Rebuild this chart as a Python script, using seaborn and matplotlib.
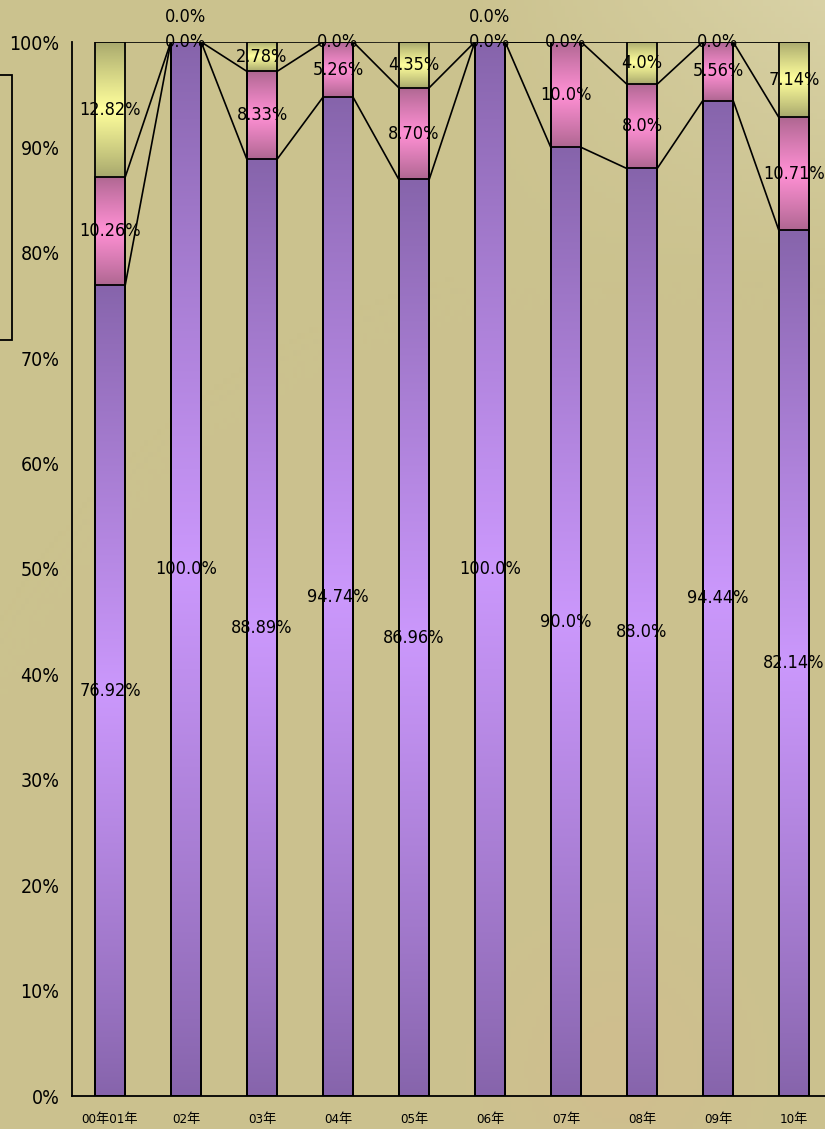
import numpy as np
import pandas as pd
import matplotlib
matplotlib.use("Agg")
import matplotlib.pyplot as plt
from matplotlib import font_manager
from matplotlib.colors import to_rgb
from matplotlib.patches import Rectangle
from matplotlib.ticker import FixedLocator
import seaborn as sns

# ── Dados ──────────────────────────────────────────────────────────────────────
categories = ["00年01年", "02年", "03年", "04年", "05年", "06年", "07年", "08年", "09年", "10年"]
purple_vals = ["76.92", "100.0", "88.89", "94.74", "86.96", "100.0", "90.0", "88.0", "94.44", "82.14"]
pink_vals = ["10.26", "0.0", "8.33", "5.26", "8.70", "0.0", "10.0", "8.0", "5.56", "10.71"]
yellow_vals = ["12.82", "0.0", "2.78", "0.0", "4.35", "0.0", "0.0", "4.0", "0.0", "7.14"]
y_ticks = [0, 10, 20, 30, 40, 50, 60, 70, 80, 90, 100]

# (escuro nas pontas, claro no meio)
SEG_COLORS = {
    "purple": ("#8664ab", "#cb98fc"),
    "pink": ("#ad6690", "#ff90d4"),
    "yellow": ("#a6a66c", "#ffff9c"),
}

sns.set_style("white")

# procura uma fonte estreita, se houver
narrow = None
for f in font_manager.fontManager.ttflist:
    if f.stretch in ("condensed", "semi-condensed", "extra-condensed") or \
            "Condensed" in f.name or "Narrow" in f.name:
        narrow = f.name
        break
families = ([narrow] if narrow else []) + ["DejaVu Sans", "Noto Sans CJK JP"]
plt.rcParams["font.family"] = families
STRETCH = "condensed"

W, H = 825, 1129
fig = plt.figure(figsize=(W / 100, H / 100), dpi=100)

# ── Fundo ──────────────────────────────────────────────────────────────────────
bg = fig.add_axes([0, 0, 1, 1], zorder=-5)
gx, gy = np.meshgrid(np.linspace(0, 1, 200), np.linspace(0, 1, 200))
base = np.array(to_rgb("#cbc28e"))
light = np.array(to_rgb("#e2dcb6"))
warm = np.array(to_rgb("#d8b890"))
w_light = np.clip((gx - 0.55) * 2.2, 0, 1) * np.clip((gy - 0.75) * 4, 0, 1) * 0.6
w_warm = np.exp(-(((gx - 0.75) / 0.15) ** 2 + ((gy - 0.05) / 0.12) ** 2)) * 0.35
img = base[None, None, :] * (1 - w_light - w_warm)[..., None] + light * w_light[..., None] + warm * w_warm[..., None]
bg.imshow(img, origin="lower", extent=[0, 1, 0, 1], aspect="auto")
bg.set_axis_off()

# ── Eixo principal ─────────────────────────────────────────────────────────────
left, right = 72 / W, 832 / W
bottom, top = (H - 1096) / H, (H - 42) / H
ax = fig.add_axes([left, bottom, right - left, top - bottom])
ax.set_facecolor("none")

purple = np.array([float(v) for v in purple_vals])
pink = np.array([float(v) for v in pink_vals])
yellow = np.array([float(v) for v in yellow_vals])
cum1 = purple
cum2 = purple + pink
cum3 = purple + pink + yellow

df = pd.DataFrame({"cat": categories, "c1": cum1, "c2": cum2, "c3": cum3})
BAR_W = 0.4

segments = [
    ("c3", cum2, cum3, "yellow"),
    ("c2", cum1, cum2, "pink"),
    ("c1", np.zeros(len(categories)), cum1, "purple"),
]


def _gradient(dark, light_c, n=256):
    t = np.linspace(0, 1, n)
    f = (1 - np.abs(2 * t - 1)) ** 0.9
    d, l = np.array(to_rgb(dark)), np.array(to_rgb(light_c))
    return (d[None, :] * (1 - f[:, None]) + l[None, :] * f[:, None])[:, None, :]


for col, lo, hi, name in segments:
    n_before = len(ax.patches)
    sns.barplot(data=df, x="cat", y=col, order=categories, width=BAR_W,
                color="white", ax=ax)
    new_patches = ax.patches[n_before:]
    grad = _gradient(*SEG_COLORS[name])
    for i, patch in enumerate(new_patches):
        patch.set_facecolor("none")
        patch.set_edgecolor("black")
        patch.set_linewidth(1.3)
        patch.set_zorder(4)
        if hi[i] - lo[i] <= 0:
            continue
        x0 = patch.get_x()
        im = ax.imshow(grad, origin="lower", aspect="auto", interpolation="bicubic",
                       extent=[x0, x0 + patch.get_width(), lo[i], hi[i]], zorder=2)
        im.set_clip_path(patch)

# ── Linhas de série ────────────────────────────────────────────────────────────
xs = np.arange(len(categories))
for level in (cum1, cum2, cum3):
    for i in range(len(categories) - 1):
        ax.plot([xs[i] + BAR_W / 2, xs[i + 1] - BAR_W / 2], [level[i], level[i + 1]],
                color="black", lw=1.2, zorder=5, solid_capstyle="butt")

# ── Rótulos ────────────────────────────────────────────────────────────────────
lab_size = 13 if narrow else 12
for i in range(len(categories)):
    labels = [
        (purple_vals[i], purple[i] / 2),
        (pink_vals[i], cum1[i] + pink[i] / 2),
        (yellow_vals[i], cum2[i] + yellow[i] / 2),
    ]
    used = []
    for txt, y in labels:
        while any(abs(y - u) < 1.0 for u in used):
            y += 2.4
        used.append(y)
        ax.text(xs[i], y, f"{txt}%", ha="center", va="center", fontsize=lab_size,
                fontstretch=STRETCH, color="black", zorder=6, clip_on=False)

# ── Eixos ──────────────────────────────────────────────────────────────────────
ax.set_xlim(-0.5, len(categories) - 0.5)
ax.set_ylim(0, 100)
ax.set_xlabel("")
ax.set_ylabel("")
ax.set_yticks(y_ticks)
ax.set_yticklabels([f"{v}%" for v in y_ticks], fontsize=14 if narrow else 13,
                   fontstretch=STRETCH, color="black")
ax.set_xticks(xs)
ax.set_xticklabels(categories, fontsize=9.5, fontstretch=STRETCH, color="black")
ax.xaxis.set_minor_locator(FixedLocator(np.arange(-0.5, len(categories), 1.0)))
ax.tick_params(axis="x", which="major", length=0, pad=12)
ax.tick_params(axis="x", which="minor", length=6, width=1.3, color="black", direction="out")
ax.tick_params(axis="y", length=6, width=1.3, color="black", direction="out", pad=3)
for side in ("top", "right"):
    ax.spines[side].set_visible(False)
for side in ("left", "bottom"):
    ax.spines[side].set_color("black")
    ax.spines[side].set_linewidth(1.3)

# caixa da legenda cortada à esquerda
fig.add_artist(Rectangle((-0.05, (H - 340) / H), 0.05 + 12 / W, (340 - 75) / H,
                         transform=fig.transFigure, fill=False, edgecolor="black", lw=1.3))

fig.savefig("out.png", dpi=100)
